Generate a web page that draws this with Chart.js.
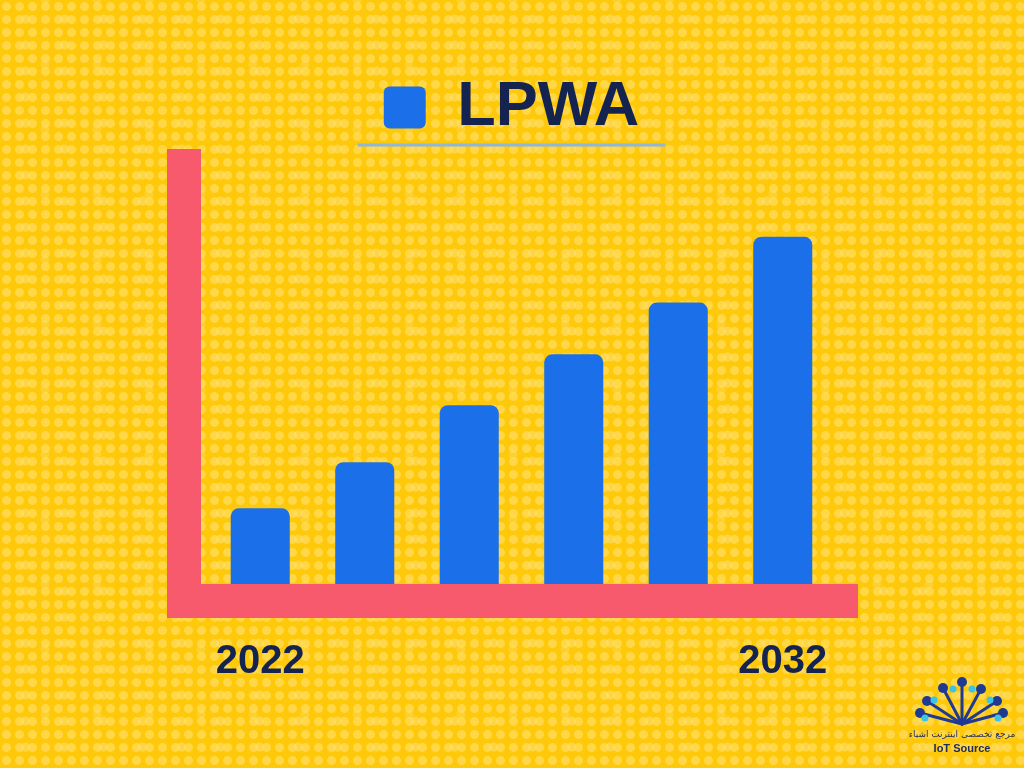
<!DOCTYPE html>
<html lang="en">
<head>
<meta charset="utf-8">
<title>LPWA</title>
<script src="https://cdn.jsdelivr.net/npm/chart.js@4"></script>
<style>
    html, body {
        margin: 0;
        padding: 0;
    }
    body {
        width: 1024px;
        height: 768px;
        overflow: hidden;
        position: relative;
        background-color: #fec90a;
        background-image:
            radial-gradient(circle, rgba(255, 226, 120, 0.55) 4px, transparent 5px),
            radial-gradient(circle, rgba(255, 230, 140, 0.45) 4px, transparent 5px),
            radial-gradient(circle, rgba(255, 222, 110, 0.35) 4px, transparent 5px);
        background-size: 13px 13px, 39px 26px, 52px 65px;
        background-position: 0 0, 6px 6px, 19px 32px;
    }
    #chart {
        position: absolute;
        left: 0;
        top: 0;
    }
    .logo {
        position: absolute;
        left: 906px;
        top: 674px;
        width: 112px;
        text-align: center;
        color: #1d2b5e;
    }
    .logo svg {
        display: block;
        margin: 0 auto;
    }
    .logo .fa {
        font-family: "DejaVu Sans", sans-serif;
        font-size: 9px;
        direction: rtl;
        line-height: 13px;
        white-space: nowrap;
    }
    .logo .en {
        font-family: "Liberation Sans", Arial, sans-serif;
        font-weight: bold;
        font-size: 11px;
        line-height: 14px;
    }
</style>
</head>
<body>
<canvas id="chart" width="1024" height="768"></canvas>

<div class="logo">
    <svg width="112" height="54" viewBox="0 0 112 54">
        <g stroke="#1f3a93" stroke-width="3" stroke-linecap="round" fill="none">
            <line x1="56" y1="50" x2="56" y2="8"/>
            <line x1="56" y1="50" x2="37" y2="14"/>
            <line x1="56" y1="50" x2="75" y2="15"/>
            <line x1="56" y1="50" x2="21" y2="27"/>
            <line x1="56" y1="50" x2="91" y2="27"/>
            <line x1="56" y1="50" x2="14" y2="39"/>
            <line x1="56" y1="50" x2="97" y2="39"/>
        </g>
        <g fill="#1f3a93">
            <circle cx="56" cy="8" r="5"/>
            <circle cx="37" cy="14" r="5"/>
            <circle cx="75" cy="15" r="5"/>
            <circle cx="21" cy="27" r="5"/>
            <circle cx="91" cy="27" r="5"/>
            <circle cx="14" cy="39" r="5"/>
            <circle cx="97" cy="39" r="5"/>
        </g>
        <g fill="#3cc3e6">
            <circle cx="47" cy="15" r="3.5"/>
            <circle cx="66" cy="15" r="3.5"/>
            <circle cx="28" cy="26" r="3.5"/>
            <circle cx="84" cy="26" r="3.5"/>
            <circle cx="19" cy="44" r="3.5"/>
            <circle cx="92" cy="44" r="3.5"/>
        </g>
    </svg>
    <div class="fa">مرجع تخصصی اینترنت اشیاء</div>
    <div class="en">IoT Source</div>
</div>

<script>
// data
const years = ['2022', '2024', '2026', '2028', '2030', '2032'];
const lpwaValues = [17.4, 28.0, 41.1, 52.8, 64.7, 79.8];
const shownYears = ['2022', '2032'];

const navy = '#14234f';
const barBlue = '#1b70ea';
const axisRed = '#f65a6c';

// thick L-shaped axis behind the bars + underline below the legend
const decorations = {
    id: 'decorations',
    beforeDatasetsDraw(chart) {
        const { ctx, chartArea } = chart;
        ctx.save();
        ctx.fillStyle = axisRed;
        ctx.fillRect(chartArea.left - 41, chartArea.top, 34, chartArea.bottom - chartArea.top + 34);
        ctx.fillRect(chartArea.left - 41, chartArea.bottom, chartArea.right - chartArea.left + 64, 34);
        ctx.restore();
    },
    afterDraw(chart) {
        const legend = chart.legend;
        if (!legend || !legend.legendHitBoxes.length) return;
        const box = legend.legendHitBoxes[0];
        const ctx = chart.ctx;
        ctx.save();
        ctx.strokeStyle = '#8fb6dc';
        ctx.lineWidth = 3;
        ctx.beginPath();
        ctx.moveTo(box.left - 26, legend.bottom - 4);
        ctx.lineTo(box.left + box.width + 26, legend.bottom - 4);
        ctx.stroke();
        ctx.restore();
    }
};

new Chart(document.getElementById('chart'), {
    type: 'bar',
    data: {
        labels: years,
        datasets: [{
            label: 'LPWA',
            data: lpwaValues,
            backgroundColor: barBlue,
            borderRadius: 8,
            categoryPercentage: 1,
            barPercentage: 0.565
        }]
    },
    options: {
        responsive: false,
        animation: false,
        layout: {
            padding: { left: 188, right: 189, top: 66, bottom: 28 }
        },
        plugins: {
            legend: {
                position: 'top',
                labels: {
                    boxWidth: 42,
                    boxHeight: 42,
                    useBorderRadius: true,
                    borderRadius: 6,
                    color: navy,
                    font: { family: '"Liberation Sans", Arial, sans-serif', size: 63, weight: 'bold' }
                },
                onClick: null
            },
            tooltip: { enabled: false }
        },
        scales: {
            x: {
                grid: { display: false, drawTicks: false },
                border: { display: false },
                ticks: {
                    autoSkip: false,
                    maxRotation: 0,
                    padding: 54,
                    color: navy,
                    font: { family: '"Liberation Sans", Arial, sans-serif', size: 40, weight: 'bold' },
                    callback(value) {
                        const label = this.getLabelForValue(value);
                        return shownYears.includes(label) ? label : '';
                    }
                }
            },
            y: {
                min: 0,
                max: 100,
                grid: { display: false, drawTicks: false },
                border: { display: false },
                ticks: { display: false },
                afterFit(scale) {
                    scale.width = 20;
                }
            }
        }
    },
    plugins: [decorations]
});
</script>
</body>
</html>
